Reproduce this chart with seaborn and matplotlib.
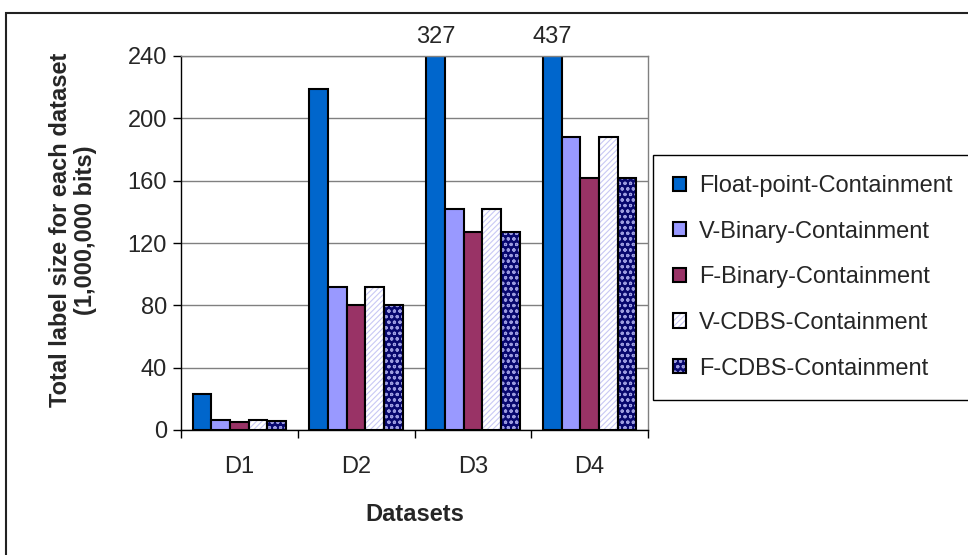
import matplotlib
matplotlib.use("Agg")
import matplotlib.pyplot as plt
from matplotlib.patches import Rectangle, Patch
from matplotlib.legend_handler import HandlerTuple
import seaborn as sns
import pandas as pd

datasets = ["D1", "D2", "D3", "D4"]
series = ["Float-point-Containment", "V-Binary-Containment", "F-Binary-Containment",
          "V-CDBS-Containment", "F-CDBS-Containment"]
float_point = [23, 219, 327, 437]
v_binary = [6.5, 92, 142, 188]
f_binary = [5.3, 80, 127, 162]
v_cdbs = [6.5, 92, 142, 188]
f_cdbs = [5.5, 80, 127, 162]
y_ticks = [0, 40, 80, 120, 160, 200, 240]

values = [float_point, v_binary, f_binary, v_cdbs, f_cdbs]
df = pd.DataFrame(
    [(d, s, v[i]) for s, v in zip(series, values) for i, d in enumerate(datasets)],
    columns=["dataset", "series", "value"],
)

# fill, hatch, hatch colour per series
styles = {
    "Float-point-Containment": ("#0066CC", None, None),
    "V-Binary-Containment": ("#9999FF", None, None),
    "F-Binary-Containment": ("#993366", None, None),
    "V-CDBS-Containment": ("#FFFFFF", "//////", "#C8C8F4"),
    "F-CDBS-Containment": ("#08086E", "ooo", "#9C9CE0"),
}

FS = 17

sns.set_style("white")
plt.rcParams["font.family"] = ["Liberation Sans", "DejaVu Sans"]
plt.rcParams["hatch.linewidth"] = 0.8

fig = plt.figure(figsize=(9.68, 5.55), dpi=100)
ax = fig.add_axes([181 / 968, 125 / 555, (648 - 181) / 968, (430 - 56) / 555])

palette = {s: styles[s][0] for s in series}
sns.barplot(data=df, x="dataset", y="value", hue="series", hue_order=series,
            order=datasets, palette=palette, width=0.8, gap=0, saturation=1,
            edgecolor="black", linewidth=1.5, ax=ax, legend=False, errorbar=None)

for s, cont in zip(series, ax.containers):
    face, hatch, hcol = styles[s]
    for bar in cont:
        if hatch:
            bar.set_facecolor(face)
            bar.set_edgecolor(hcol)
            bar.set_hatch(hatch)
            bar.set_linewidth(0)
            ax.add_patch(Rectangle((bar.get_x(), bar.get_y()), bar.get_width(),
                                   bar.get_height(), fill=False, edgecolor="black",
                                   linewidth=1.5, zorder=bar.get_zorder() + 0.1))

ax.set_ylim(0, 240)
ax.set_xlim(-0.5, 3.5)
ax.set_yticks(y_ticks)
ax.yaxis.grid(True, color="#808080", linewidth=1)
ax.set_axisbelow(True)

# values of bars running past the top of the scale
for i, v in enumerate(float_point):
    if v > 240:
        bar = ax.containers[0][i]
        ax.annotate(f"{v:g}", (bar.get_x() + bar.get_width() / 2, 240),
                    xytext=(0, 6), textcoords="offset points", ha="center",
                    va="bottom", fontsize=FS, annotation_clip=False)

for side in ["top", "right"]:
    ax.spines[side].set_color("#808080")
    ax.spines[side].set_linewidth(1)
for side in ["left", "bottom"]:
    ax.spines[side].set_color("black")
    ax.spines[side].set_linewidth(1)

ax.tick_params(axis="y", direction="out", length=6, width=1, color="black",
               labelsize=FS, pad=4, left=True)
ax.tick_params(axis="x", which="major", length=0, labelsize=FS, pad=19)
ax.set_xticks([-0.5, 0.5, 1.5, 2.5, 3.5], minor=True)
ax.tick_params(axis="x", which="minor", direction="out", length=6, width=1,
               color="black", bottom=True)

ax.set_xlabel("Datasets", fontsize=FS, fontweight="bold", labelpad=18)
ax.set_ylabel("Total label size for each dataset\n(1,000,000 bits)", fontsize=FS,
              fontweight="bold", linespacing=1.1)
ax.yaxis.set_label_coords(-0.18, 0.535)

handles = []
for s in series:
    face, hatch, hcol = styles[s]
    if hatch:
        handles.append((Patch(facecolor=face, edgecolor=hcol, hatch=hatch, linewidth=0),
                        Patch(fill=False, edgecolor="black", linewidth=1.5)))
    else:
        handles.append(Patch(facecolor=face, edgecolor="black", linewidth=1.5))
leg = fig.legend(handles, series, loc="upper left",
                 bbox_to_anchor=(653 / 968, (555 - 155) / 555), fontsize=FS,
                 frameon=True, fancybox=False, edgecolor="black", framealpha=1,
                 borderaxespad=0, labelspacing=1.0, handlelength=0.55,
                 handleheight=0.55, handletextpad=0.55, borderpad=0.85,
                 handler_map={tuple: HandlerTuple(ndivide=1, pad=0)})
leg.get_frame().set_linewidth(1)

# outline around the whole chart area
fig.patches.append(Rectangle((6 / 968, -0.02), 1.0, (555 - 13) / 555 + 0.02,
                             transform=fig.transFigure, fill=False,
                             edgecolor="#222222", linewidth=1.5))

fig.savefig("out.png", dpi=100)
